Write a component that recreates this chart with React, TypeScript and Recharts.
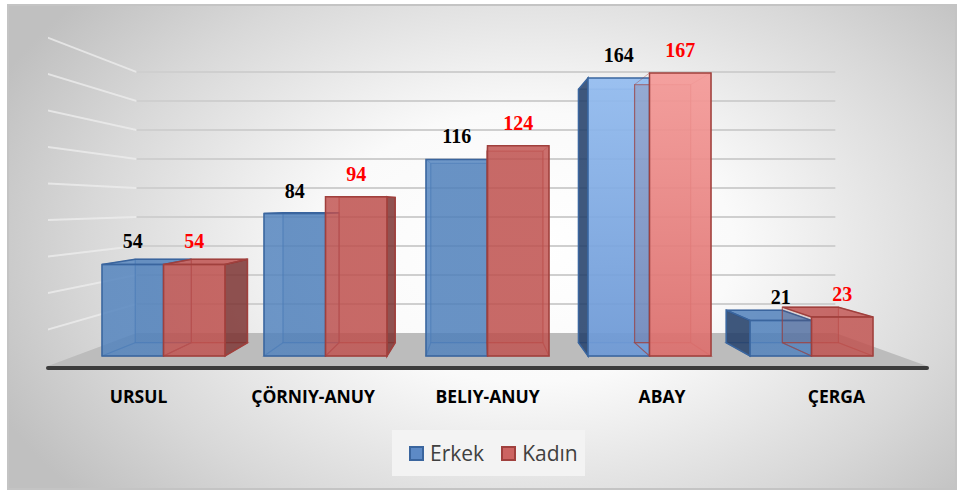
import React from "react";
import {
  BarChart,
  Bar,
  XAxis,
  YAxis,
  LabelList,
  Legend,
  ReferenceArea,
} from "recharts";

const regions = ["URSUL", "ÇÖRNIY-ANUY", "BELIY-ANUY", "ABAY", "ÇERGA"];
const erkek = [54, 84, 116, 164, 21];
const kadin = [54, 94, 124, 167, 23];
const wallTicks = [20, 40, 60, 80, 100, 120, 140, 160, 180];

const data = regions.map((region, i) => ({ region, erkek: erkek[i], kadin: kadin[i] }));

// fake 3D camera: vanishing point and depth of bars / back wall
const VX = 480;
const VY = 205;
const BAR_DEPTH = 0.088;
const WALL_DEPTH = 0.205;
const LABEL_SPREAD = 0.077;
const FLOOR_OUT_L = 34;
const FLOOR_OUT_R = 35;

const BLUE = { front: "#4f81bd", lit: "#93bcf0", litLow: "#6d99d6", edge: "#3a659e", side: "#23406a" };
const RED = { front: "#c0504d", lit: "#f59a98", litLow: "#dc6f6d", edge: "#a0403d", side: "#7a302e" };

const toBack = (px: number, py: number, k: number) => [px + k * (VX - px), py + k * (VY - py)];
const pts = (arr: number[][]) => arr.map((p) => p.join(",")).join(" ");

function Box3D(props: any) {
  const { x, y, width, height, pal, outer, index, name } = props;
  if (!height || height <= 0) return null;
  const x0 = x, x1 = x + width, y0 = y, y1 = y + height;
  const [bx0, by0] = toBack(x0, y0, BAR_DEPTH);
  const [bx1, by1] = toBack(x1, y1, BAR_DEPTH);
  const front = [[x0, y0], [x1, y0], [x1, y1], [x0, y1]];
  const back = [[bx0, by0], [bx1, by0], [bx1, by1], [bx0, by1]];
  const left = [[x0, y0], [bx0, by0], [bx0, by1], [x0, y1]];
  const right = [[x1, y0], [bx1, by0], [bx1, by1], [x1, y1]];
  const top = [[x0, y0], [x1, y0], [bx1, by0], [bx0, by0]];
  const bottom = [[x0, y1], [x1, y1], [bx1, by1], [bx0, by1]];
  const lit = y0 < 120;
  const gid = `g-${name}-${index}`;
  const showLeft = outer === "left" && bx0 < x0;
  const showRight = outer === "right" && bx1 > x1;
  const showTop = by0 < y0;
  return (
    <g>
      <defs>
        <linearGradient id={gid} x1="0" y1="0" x2="0" y2="1">
          <stop offset="0%" stopColor={lit ? pal.lit : pal.front} />
          <stop offset="100%" stopColor={lit ? pal.litLow : pal.front} />
        </linearGradient>
      </defs>
      {/* faces seen through the transparent box */}
      <polygon points={pts(back)} fill={pal.side} fillOpacity={0.15} stroke={pal.edge} strokeOpacity={0.55} strokeWidth={1.2} />
      <polygon points={pts(bottom)} fill="none" stroke={pal.edge} strokeOpacity={0.55} strokeWidth={1.2} />
      {!showLeft && <polygon points={pts(left)} fill="none" stroke={pal.edge} strokeOpacity={0.4} strokeWidth={1} />}
      {!showRight && <polygon points={pts(right)} fill="none" stroke={pal.edge} strokeOpacity={0.4} strokeWidth={1} />}
      {showTop && <polygon points={pts(top)} fill={pal.front} fillOpacity={0.8} stroke={pal.edge} strokeWidth={1.5} />}
      {showLeft && <polygon points={pts(left)} fill={pal.side} fillOpacity={0.85} stroke={pal.edge} strokeWidth={1.5} />}
      {showRight && <polygon points={pts(right)} fill={pal.side} fillOpacity={0.8} stroke={pal.edge} strokeWidth={1.5} />}
      <polygon points={pts(front)} fill={`url(#${gid})`} fillOpacity={lit ? 0.92 : 0.82} stroke={pal.edge} strokeWidth={1.5} />
    </g>
  );
}

function Floor(props: any) {
  const { x, y, width } = props;
  const fl = x - FLOOR_OUT_L;
  const fr = x + width + FLOOR_OUT_R;
  const fy = (y - WALL_DEPTH * VY) / (1 - WALL_DEPTH);
  const [bl] = toBack(fl, fy, WALL_DEPTH);
  const [br] = toBack(fr, fy, WALL_DEPTH);
  return (
    <g>
      <polygon points={pts([[bl, y], [br, y], [fr, fy], [fl, fy]])} fill="#bcbcbc" />
      <line x1={fl} y1={fy + 2} x2={fr} y2={fy + 2} stroke="#3c3c3c" strokeWidth={4} strokeLinecap="round" />
    </g>
  );
}

// one gridline on the back wall plus its slanted part on the left wall
function WallLine(props: any) {
  const { x, y, width, height } = props;
  const ly = y + (height || 0) / 2;
  const fl = x - FLOOR_OUT_L;
  const fr = x + width + FLOOR_OUT_R;
  const [bl] = toBack(fl, ly, WALL_DEPTH);
  const [br] = toBack(fr, ly, WALL_DEPTH);
  const fy = (ly - WALL_DEPTH * VY) / (1 - WALL_DEPTH);
  return (
    <g>
      <polygon points={pts([[fl, fy - 1], [bl, ly - 1], [bl, ly + 1], [fl, fy + 1]])} fill="#ececec" fillOpacity={0.8} />
      <polygon points={pts([[bl, ly - 1], [br, ly - 1], [br, ly + 1], [bl, ly + 1]])} fill="#cfcfcf" />
    </g>
  );
}

function RegionTick(props: any) {
  const { x, y, payload } = props;
  const px = x + LABEL_SPREAD * (x - VX);
  return (
    <text
      x={px}
      y={y}
      dy={39}
      textAnchor="middle"
      fontFamily='"Open Sans", sans-serif'
      fontWeight={700}
      fontSize={17.5}
      fill="#000"
    >
      {payload.value}
    </text>
  );
}

function LegendBox() {
  const item = (color: string, edge: string, label: string, gap: number) => (
    <span style={{ display: "inline-flex", alignItems: "center", marginRight: gap }}>
      <span
        style={{
          display: "inline-block",
          width: 11,
          height: 11,
          background: color,
          border: `2px solid ${edge}`,
          marginRight: 6,
        }}
      />
      <span style={{ fontSize: 21, color: "#404040", fontFamily: '"Open Sans", sans-serif' }}>{label}</span>
    </span>
  );
  return (
    <div
      style={{
        width: 193,
        height: 46,
        background: "#f3f3f3",
        display: "flex",
        alignItems: "center",
        paddingLeft: 17,
        boxSizing: "border-box",
      }}
    >
      {item("#5d8ac6", "#3a659e", "Erkek", 17)}
      {item("#cc6462", "#a0403d", "Kadın", 0)}
    </div>
  );
}

export default function App() {
  return (
    <div style={{ position: "relative", width: 961, height: 495 }}>
      <style>{"body{margin:0}"}</style>
      <div
        style={{
          position: "absolute",
          left: 7,
          top: 4,
          width: 950,
          height: 486,
          boxSizing: "border-box",
          border: "2px solid #c4c4c4",
          background:
            "radial-gradient(ellipse 62% 80% at 55% 50%, #ffffff 0%, #fafafa 35%, #d8d8d8 75%, #c0c0c0 100%)",
        }}
      />
      <div style={{ position: "absolute", left: 0, top: 0 }}>
        <BarChart
          width={961}
          height={495}
          data={data}
          margin={{ top: 17, right: 69, bottom: 53, left: 82 }}
          barGap={0}
          barSize={61.5}
        >
          <XAxis dataKey="region" axisLine={false} tickLine={false} height={40} tick={<RegionTick />} interval={0} />
          <YAxis yAxisId="val" hide domain={[0, 200]} />
          <YAxis yAxisId="wall" hide domain={[-15.9, 217.9]} allowDataOverflow />
          {wallTicks.map((t) => (
            <ReferenceArea
              key={t}
              yAxisId="wall"
              y1={t - 0.2}
              y2={t + 0.2}
              ifOverflow="visible"
              shape={<WallLine />}
            />
          ))}
          <ReferenceArea yAxisId="wall" y1={-15.9} y2={0} ifOverflow="visible" shape={<Floor />} />
          <Legend
            verticalAlign="bottom"
            content={() => <LegendBox />}
            wrapperStyle={{ left: 392, top: 430, width: 193, height: 46 }}
          />
          <Bar
            yAxisId="val"
            dataKey="erkek"
            name="Erkek"
            isAnimationActive={false}
            shape={(p: any) => <Box3D {...p} pal={BLUE} outer="left" name="e" />}
          >
            <LabelList
              dataKey="erkek"
              position="top"
              offset={16}
              fill="#000"
              fontFamily='"Liberation Serif", serif'
              fontWeight={700}
              fontSize={20}
            />
          </Bar>
          <Bar
            yAxisId="val"
            dataKey="kadin"
            name="Kadın"
            isAnimationActive={false}
            shape={(p: any) => <Box3D {...p} pal={RED} outer="right" name="k" />}
          >
            <LabelList
              dataKey="kadin"
              position="top"
              offset={16}
              fill="#ff0000"
              fontFamily='"Liberation Serif", serif'
              fontWeight={700}
              fontSize={20}
            />
          </Bar>
        </BarChart>
      </div>
    </div>
  );
}
